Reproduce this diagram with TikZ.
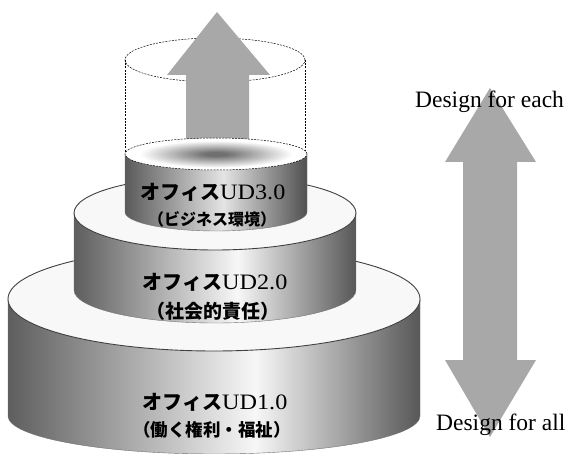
\documentclass[tikz,border=0pt]{standalone}
\usepackage{fontspec}
\usepackage{graphicx}
\setmainfont{Liberation Serif}
\newfontfamily\jp{Noto Sans CJK JP}
\definecolor{edgeL}{HTML}{5E5E5E}
\definecolor{edgeR}{HTML}{575757}
\definecolor{peak}{HTML}{F7F7F7}
\definecolor{edgeLd}{HTML}{5A5A5A}
\definecolor{edgeRd}{HTML}{505050}
\definecolor{peakd}{HTML}{E4E4E4}
\definecolor{glowc}{HTML}{707070}
\definecolor{arrowgray}{HTML}{A8A8A8}
\definecolor{topfill}{HTML}{F8F8F8}
\pgfdeclarehorizontalshading{cylA}{100bp}{color(0bp)=(edgeL); color(25bp)=(edgeL); color(55bp)=(peak); color(75bp)=(edgeR); color(100bp)=(edgeR)}
\pgfdeclarehorizontalshading{cylB}{100bp}{color(0bp)=(edgeL); color(25bp)=(edgeL); color(54bp)=(peak); color(75bp)=(edgeR); color(100bp)=(edgeR)}
\pgfdeclarehorizontalshading{cylC}{100bp}{color(0bp)=(edgeLd); color(25bp)=(edgeLd); color(52bp)=(peakd); color(75bp)=(edgeRd); color(100bp)=(edgeRd)}
\pgfdeclareradialshading{glow}{\pgfpoint{0bp}{0bp}}{color(0bp)=(glowc); color(3bp)=(glowc); color(21bp)=(white); color(50bp)=(white)}
\tikzset{
  body/.style={draw=black!55, line width=0.4pt},
  toprim/.style={draw=black!75, line width=0.9pt, fill=topfill},
  dashrim/.style={draw=black, line width=0.5pt, dash pattern=on 2pt off 1.2pt},
  bigarrow/.style={fill=arrowgray, draw=none},
  lab/.style={inner sep=0pt, anchor=center},
  side/.style={inner sep=0pt, font=\fontsize{23.5}{26}\selectfont},
}
\newcommand{\kata}[1]{{\jp\bfseries\fontsize{20}{22}\selectfont #1}}
\newcommand{\udnum}[1]{{\fontsize{22}{24}\selectfont\scalebox{1.1}[1]{#1}}}
\begin{document}
\begin{tikzpicture}[x=1pt,y=1pt]
\useasboundingbox (0,0) rectangle (567,-454);
\fill[white] (0,0) rectangle (567,-454);
% ---- tier 1
\path[body, shading=cylA] (8,-299) -- (8,-416) arc[start angle=180, end angle=360, x radius=206pt, y radius=38pt] -- (420,-299) -- cycle;
\path[toprim] (214,-299) ellipse[x radius=206pt, y radius=52pt];
% ---- tier 2
\path[body, shading=cylB] (74,-213) -- (74,-290) arc[start angle=180, end angle=360, x radius=141pt, y radius=33pt] -- (356,-213) -- cycle;
\path[toprim] (215,-213) ellipse[x radius=141pt, y radius=37pt];
% ---- tier 3
\path[body, shading=cylC] (125,-154) -- (125,-212) arc[start angle=180, end angle=360, x radius=91pt, y radius=19pt] -- (307,-154) -- cycle;
% ---- dashed cylinder
\coordinate (dL) at (125,-60);
\coordinate (dR) at (305,-60);
\coordinate (dLb) at (125,-154);
\coordinate (dRb) at (305,-154);
\draw[dashrim] (dL) -- (dLb);
\draw[dashrim] (dR) -- (dRb);
\draw[dashrim] (215,-60) ellipse[x radius=90pt, y radius=22pt];
% ---- up arrow
\path[bigarrow] (217,-12) -- (270,-75) -- (249,-75) -- (249,-152) -- (186,-152) -- (186,-75) -- (167,-75) -- cycle;
% ---- tier 3 top
\path[shading=glow] (216,-154) ellipse[x radius=91pt, y radius=16pt];
\draw[dashrim] (216,-154) ellipse[x radius=91pt, y radius=16pt];
% ---- labels
\node[lab] (t3a) at (213,-192) {\kata{オフィス}\udnum{UD3.0}};
\node[lab] (t3b) at (212,-219) {\jp\bfseries\fontsize{16}{18}\selectfont （ビジネス環境）};
\node[lab] (t2a) at (215,-282) {\kata{オフィス}\udnum{UD2.0}};
\node[lab] (t2b) at (213,-311) {\jp\bfseries\fontsize{19}{21}\selectfont （社会的責任）};
\node[lab] (t1a) at (215,-402) {\kata{オフィス}\udnum{UD1.0}};
\node[lab] (t1b) at (212,-430) {\jp\bfseries\fontsize{17.5}{19}\selectfont （働く権利・福祉）};
% ---- double arrow
\path[bigarrow] (490,-88) -- (536,-162) -- (517,-162) -- (517,-360) -- (536,-360) -- (490,-437) -- (445,-360) -- (463,-360) -- (463,-162) -- (445,-162) -- cycle;
\node[side, anchor=base west] (each) at (415,-108) {Design for each};
\node[side, anchor=base west] (all) at (436,-430) {Design for all};
\end{tikzpicture}
\end{document}
